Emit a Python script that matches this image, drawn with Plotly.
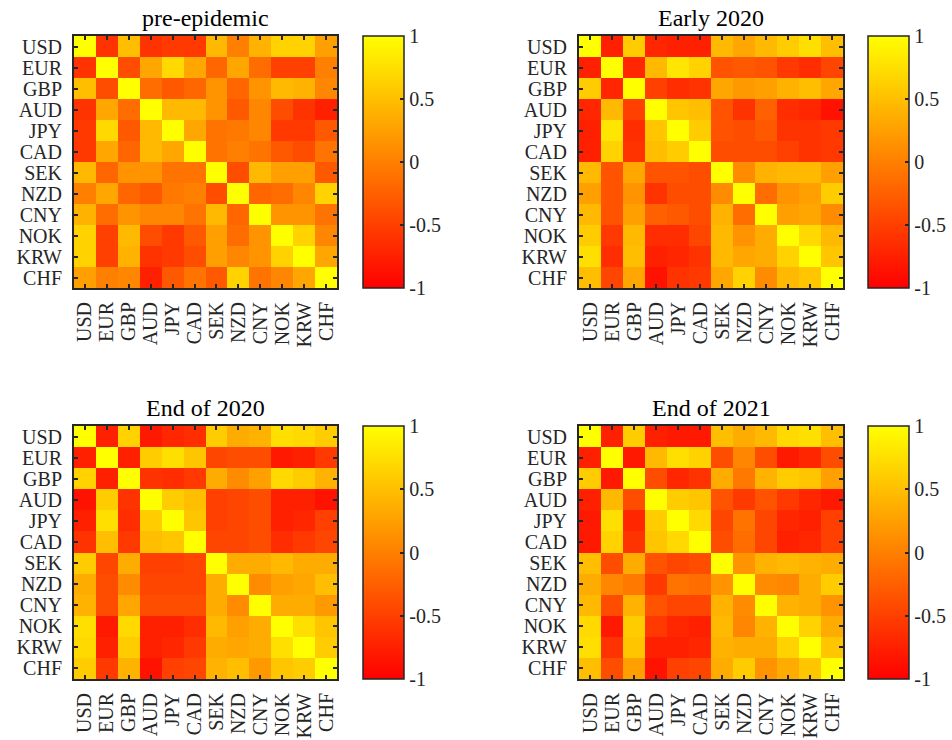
import plotly.graph_objects as go

currencies = ["USD", "EUR", "GBP", "AUD", "JPY", "CAD", "SEK", "NZD", "CNY", "NOK", "KRW", "CHF"]
titles = ["pre-epidemic", "Early 2020", "End of 2020", "End of 2021"]
cbar_ticks = [-1, -0.5, 0, 0.5, 1]

pre_epidemic = [
    [1, -0.6, 0.5, -0.6, -0.55, -0.55, 0.45, 0.0, 0.4, 0.65, 0.65, 0.25],
    [-0.6, 1, -0.4, 0.3, 0.7, 0.3, -0.2, 0.3, -0.15, -0.5, -0.5, 0.0],
    [0.5, -0.4, 1, -0.15, -0.3, -0.2, 0.15, -0.2, 0.15, 0.45, 0.4, 0.05],
    [-0.6, 0.3, -0.15, 1, 0.45, 0.45, 0.15, -0.3, 0.05, -0.4, -0.6, -0.75],
    [-0.55, 0.7, -0.3, 0.45, 1, 0.3, -0.1, -0.05, 0.05, -0.55, -0.55, -0.3],
    [-0.55, 0.3, -0.2, 0.45, 0.3, 1, -0.1, 0.0, -0.1, -0.3, -0.4, -0.1],
    [0.45, -0.2, 0.15, 0.15, -0.1, -0.1, 1, -0.4, 0.45, 0.25, 0.25, -0.3],
    [0.0, 0.3, -0.2, -0.3, -0.05, 0.0, -0.4, 1, -0.2, -0.15, 0.05, 0.65],
    [0.4, -0.15, 0.15, 0.05, 0.05, -0.1, 0.45, -0.2, 1, 0.15, 0.15, -0.1],
    [0.65, -0.5, 0.45, -0.4, -0.55, -0.3, 0.25, -0.15, 0.15, 1, 0.65, 0.05],
    [0.65, -0.5, 0.4, -0.6, -0.55, -0.4, 0.25, 0.05, 0.15, 0.65, 1, 0.3],
    [0.25, 0.0, 0.05, -0.75, -0.3, -0.1, -0.3, 0.65, -0.1, 0.05, 0.3, 1],
]

early_2020 = [
    [1, -0.75, 0.6, -0.7, -0.75, -0.75, 0.45, 0.3, 0.45, 0.6, 0.75, 0.5],
    [-0.75, 1, -0.7, 0.45, 0.8, 0.65, -0.35, -0.3, -0.35, -0.55, -0.65, -0.45],
    [0.6, -0.7, 1, -0.5, -0.65, -0.6, 0.3, 0.2, 0.25, 0.4, 0.5, 0.3],
    [-0.7, 0.45, -0.5, 1, 0.55, 0.5, -0.35, -0.6, -0.25, -0.65, -0.7, -0.85],
    [-0.75, 0.8, -0.65, 0.55, 1, 0.6, -0.35, -0.4, -0.3, -0.6, -0.6, -0.55],
    [-0.75, 0.65, -0.6, 0.5, 0.6, 1, -0.4, -0.4, -0.4, -0.5, -0.6, -0.55],
    [0.45, -0.35, 0.3, -0.35, -0.35, -0.4, 1, 0.1, 0.4, 0.45, 0.45, 0.25],
    [0.25, -0.35, 0.15, -0.6, -0.4, -0.4, 0.1, 1, -0.15, 0.15, 0.25, 0.6],
    [0.45, -0.35, 0.25, -0.25, -0.3, -0.4, 0.4, -0.15, 1, 0.25, 0.3, 0.1],
    [0.6, -0.55, 0.45, -0.65, -0.65, -0.45, 0.45, 0.15, 0.35, 1, 0.7, 0.45],
    [0.75, -0.65, 0.5, -0.75, -0.7, -0.6, 0.45, 0.3, 0.35, 0.65, 1, 0.55],
    [0.5, -0.45, 0.3, -0.85, -0.6, -0.55, 0.3, 0.65, 0.1, 0.45, 0.55, 1],
]

end_2020 = [
    [1, -0.75, 0.65, -0.8, -0.7, -0.65, 0.6, 0.35, 0.4, 0.75, 0.7, 0.6],
    [-0.75, 1, -0.75, 0.6, 0.75, 0.55, -0.45, -0.4, -0.4, -0.8, -0.75, -0.55],
    [0.65, -0.75, 1, -0.6, -0.65, -0.55, 0.35, 0.1, 0.25, 0.7, 0.6, 0.4],
    [-0.85, 0.6, -0.6, 1, 0.6, 0.5, -0.5, -0.45, -0.4, -0.75, -0.75, -0.85],
    [-0.75, 0.75, -0.65, 0.6, 1, 0.55, -0.5, -0.45, -0.4, -0.75, -0.7, -0.5],
    [-0.6, 0.5, -0.55, 0.5, 0.55, 1, -0.45, -0.45, -0.4, -0.65, -0.55, -0.45],
    [0.6, -0.45, 0.35, -0.5, -0.5, -0.45, 1, 0.35, 0.35, 0.45, 0.35, 0.35],
    [0.35, -0.4, 0.1, -0.45, -0.45, -0.45, 0.35, 1, 0.1, 0.25, 0.3, 0.5],
    [0.4, -0.4, 0.3, -0.4, -0.4, -0.4, 0.35, 0.1, 1, 0.35, 0.35, 0.2],
    [0.75, -0.8, 0.7, -0.75, -0.75, -0.65, 0.45, 0.25, 0.35, 1, 0.75, 0.55],
    [0.7, -0.75, 0.6, -0.75, -0.7, -0.55, 0.35, 0.3, 0.35, 0.75, 1, 0.6],
    [0.6, -0.55, 0.4, -0.85, -0.5, -0.45, 0.4, 0.5, 0.2, 0.55, 0.6, 1],
]

end_2021 = [
    [1, -0.75, 0.6, -0.75, -0.8, -0.8, 0.5, 0.35, 0.45, 0.7, 0.75, 0.5],
    [-0.75, 1, -0.8, 0.45, 0.75, 0.65, -0.4, 0.05, -0.4, -0.8, -0.7, -0.4],
    [0.6, -0.8, 1, -0.4, -0.7, -0.6, 0.35, -0.05, 0.4, 0.6, 0.55, 0.25],
    [-0.75, 0.45, -0.4, 1, 0.6, 0.55, -0.35, -0.55, -0.35, -0.55, -0.7, -0.8],
    [-0.8, 0.75, -0.7, 0.6, 1, 0.7, -0.45, -0.1, -0.45, -0.7, -0.75, -0.5],
    [-0.8, 0.65, -0.6, 0.55, 0.7, 1, -0.4, -0.15, -0.45, -0.75, -0.7, -0.5],
    [0.5, -0.4, 0.35, -0.35, -0.45, -0.4, 1, 0.15, 0.4, 0.45, 0.4, 0.35],
    [0.35, 0.05, -0.05, -0.55, -0.1, -0.15, 0.15, 1, 0.1, 0.05, 0.35, 0.6],
    [0.45, -0.4, 0.4, -0.35, -0.45, -0.45, 0.4, 0.1, 1, 0.4, 0.35, 0.15],
    [0.7, -0.8, 0.6, -0.55, -0.7, -0.75, 0.45, 0.05, 0.4, 1, 0.65, 0.35],
    [0.75, -0.6, 0.55, -0.75, -0.75, -0.7, 0.4, 0.35, 0.35, 0.65, 1, 0.55],
    [0.5, -0.4, 0.25, -0.85, -0.5, -0.45, 0.35, 0.6, 0.15, 0.35, 0.55, 1],
]

matrices = [pre_epidemic, early_2020, end_2020, end_2021]

W, H = 952, 740
FONT = "Liberation Serif"
INK = "#262626"
autumn = [[0, "rgb(255,0,0)"], [1, "rgb(255,255,0)"]]

# page-pixel boxes (left, right, top, bottom) of each heatmap
boxes = [(74, 337, 36, 288), (579, 843, 36, 288), (74, 337, 426, 679), (579, 843, 426, 679)]
cbar_left = [363, 868, 363, 868]


def px(v):
    return v / W


def py(v):
    return 1 - v / H


fig = go.Figure()
for i, (z, (l, r, t, b)) in enumerate(zip(matrices, boxes)):
    n = i + 1
    xa = "x" if n == 1 else f"x{n}"
    ya = "y" if n == 1 else f"y{n}"
    fig.add_trace(go.Heatmap(
        z=z, x=currencies, y=currencies, xaxis=xa, yaxis=ya,
        colorscale=autumn, zmin=-1, zmax=1,
        colorbar=dict(
            x=px(cbar_left[i]), xanchor="left", thickness=41, thicknessmode="pixels",
            y=py((t + b) / 2), yanchor="middle", len=(b - t) / H, lenmode="fraction",
            outlinewidth=1.5, outlinecolor=INK, tickmode="array", tickvals=cbar_ticks,
            ticktext=["-1", "-0.5", "0", "0.5", "1"],
            ticks="inside", ticklen=4, tickcolor=INK, tickwidth=1.5,
            tickfont=dict(family=FONT, size=20, color=INK), xpad=0, ypad=0,
        ),
        hovertemplate="%{y} / %{x}: %{z}<extra></extra>",
    ))
    common = dict(showline=True, linecolor=INK, linewidth=2, mirror="allticks",
                  ticks="inside", ticklen=4, tickcolor=INK, tickwidth=1.5,
                  tickmode="array", tickvals=currencies, ticktext=currencies,
                  tickfont=dict(family=FONT, size=20, color=INK), showgrid=False,
                  automargin=False)
    axx = dict(domain=[px(l), px(r)], anchor=ya, tickangle=-90,
               ticklabelstandoff=4, **common)
    axy = dict(domain=[py(b), py(t)], anchor=xa, autorange="reversed",
               ticklabelstandoff=6, **common)
    fig.layout["xaxis" if n == 1 else f"xaxis{n}"] = axx
    fig.layout["yaxis" if n == 1 else f"yaxis{n}"] = axy
    fig.add_annotation(text=titles[i], x=px((l + r) / 2), y=py(t - 3),
                       xref="paper", yref="paper", xanchor="center", yanchor="bottom",
                       showarrow=False, font=dict(family=FONT, size=24, color="black"))

fig.update_layout(width=W, height=H, margin=dict(l=0, r=0, t=0, b=0),
                  paper_bgcolor="white", plot_bgcolor="white",
                  font=dict(family=FONT, color=INK))
fig.write_html("out.html", config={"displayModeBar": False},
               post_script="document.body.style.margin='0';document.body.style.overflow='hidden';")
